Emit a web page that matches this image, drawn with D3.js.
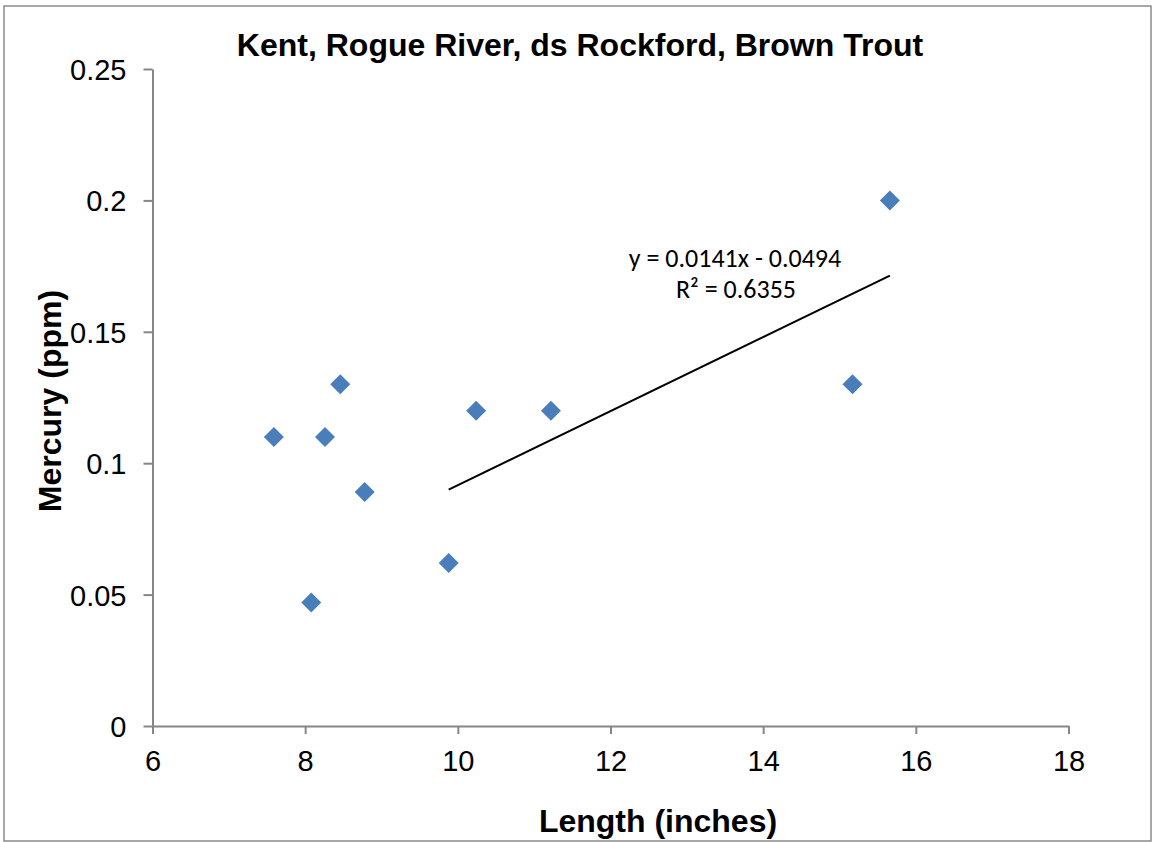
<!DOCTYPE html>
<html><head><meta charset="utf-8">
<script src="https://cdn.jsdelivr.net/npm/d3@7"></script>
<style>body{margin:0;background:#fff}svg{display:block}</style>
</head><body>
<script>
const lengths = [7.59, 8.08, 8.26, 8.46, 8.78, 9.88, 10.24, 11.22, 15.17, 15.66];
const mercury = [0.11, 0.047, 0.11, 0.13, 0.089, 0.062, 0.12, 0.12, 0.13, 0.20];
const xTicks = [6, 8, 10, 12, 14, 16, 18];
const yTicks = [0, 0.05, 0.1, 0.15, 0.2, 0.25];
const trendSlope = 0.0141, trendIntercept = -0.0494, trendR2 = 0.6355;
const trendRange = [9.88, 15.66];
const titleText = "Kent, Rogue River, ds Rockford, Brown Trout";
const xLabel = "Length (inches)", yLabel = "Mercury (ppm)";

const W = 1156, H = 842;
const svg = d3.select("body").append("svg").attr("width", W).attr("height", H);
svg.append("rect").attr("x", 4).attr("y", 6).attr("width", 1147).attr("height", 835)
  .attr("fill", "#fff").attr("stroke", "#8a8a8a").attr("stroke-width", 1.5);

const x = d3.scaleLinear().domain([6, 18]).range([152.5, 1068.5]);
const y = d3.scaleLinear().domain([0, 0.25]).range([726, 69]);
const axisColor = "#868686";

const gx = svg.append("g").attr("transform", "translate(0,726)")
  .call(d3.axisBottom(x).tickValues(xTicks).tickFormat(d3.format("d")).tickSize(8).tickSizeOuter(0).tickPadding(16));
const gy = svg.append("g").attr("transform", "translate(152.5,0)")
  .call(d3.axisLeft(y).tickValues(yTicks).tickFormat(d => d === 0 ? "0" : String(+d.toFixed(2))).tickSize(9).tickSizeOuter(0).tickPadding(17));
[gx, gy].forEach(g => {
  g.select(".domain").attr("stroke", axisColor).attr("stroke-width", 2);
  g.selectAll(".tick line").attr("stroke", axisColor).attr("stroke-width", 2);
  g.selectAll("text").attr("font-family", "Liberation Sans, Arial, sans-serif").attr("font-size", 29).attr("fill", "#000");
});
gx.selectAll("text").attr("dy", "0.71em");
gy.selectAll("text").attr("dy", "0.36em");

// trendline
svg.append("line")
  .attr("x1", x(trendRange[0])).attr("y1", y(trendSlope * trendRange[0] + trendIntercept))
  .attr("x2", x(trendRange[1])).attr("y2", y(trendSlope * trendRange[1] + trendIntercept))
  .attr("stroke", "#000").attr("stroke-width", 2);

// points
svg.append("g").selectAll("path").data(lengths.map((d, i) => [d, mercury[i]])).join("path")
  .attr("d", d3.symbol().type(d3.symbolSquare).size(200))
  .attr("transform", d => `translate(${x(d[0])},${y(d[1])}) rotate(45)`)
  .attr("fill", "#4a7ebb");

// trend label
const tl = svg.append("text").attr("font-family", "Carlito, Lato, sans-serif").attr("font-size", 26)
  .attr("text-anchor", "middle").attr("fill", "#000");
tl.append("tspan").attr("x", 735).attr("y", 267).text(`y = ${trendSlope}x - ${Math.abs(trendIntercept)}`);
tl.append("tspan").attr("x", 736).attr("y", 298).text(`R² = ${trendR2}`);

// title & labels
const bold = sel => sel.attr("font-family", "Liberation Sans, Arial, sans-serif").attr("font-weight", "bold").attr("font-size", 32);
svg.append("text").attr("x", 580).attr("y", 56).attr("text-anchor", "middle").call(bold).text(titleText);
svg.append("text").attr("x", 658).attr("y", 832).attr("text-anchor", "middle").call(bold).text(xLabel);
svg.append("text").attr("transform", "translate(61,401) rotate(-90)").attr("text-anchor", "middle").call(bold).text(yLabel);
</script>
</body></html>
